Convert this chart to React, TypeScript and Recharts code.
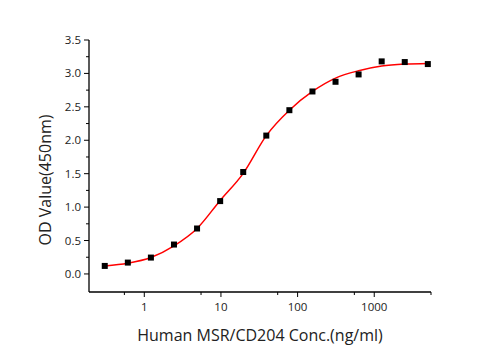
import { ComposedChart, Line, Scatter, XAxis, YAxis, Label } from 'recharts';

// concentrations in ng/ml (2-fold dilutions)
const concentrations = [0.305, 0.61, 1.22, 2.44, 4.88, 9.77, 19.53, 39.06, 78.13, 156.25, 312.5, 625, 1250, 2500, 5000];
// measured OD at 450nm
const odValues = [0.12, 0.17, 0.245, 0.44, 0.68, 1.09, 1.525, 2.07, 2.45, 2.73, 2.875, 2.985, 3.18, 3.17, 3.14];
// fitted curve read at the same concentrations
const fitValues = [0.12, 0.16, 0.245, 0.42, 0.68, 1.1, 1.505, 2.07, 2.45, 2.73, 2.93, 3.04, 3.11, 3.14, 3.15];

const xTicks = [0.55, 1, 5.5, 10, 55, 100, 550, 1000, 5500];
const xMajorTicks = [1, 10, 100, 1000];
const yTicks = [0, 0.25, 0.5, 0.75, 1, 1.25, 1.5, 1.75, 2, 2.25, 2.5, 2.75, 3, 3.25, 3.5];
const yMajorTicks = [0, 0.5, 1, 1.5, 2, 2.5, 3, 3.5];

const data = concentrations.map((c, i) => ({ conc: c, od: odValues[i], fit: fitValues[i] }));

const FONT = '"Open Sans", sans-serif';

const XTick = (props: any) => {
    const { x, y, payload } = props;
    const major = xMajorTicks.includes(payload.value);
    return (
        <g>
            <line x1={x} x2={x} y1={y} y2={y + (major ? 5 : 3)} stroke="#000" strokeWidth={1} />
            {major && (
                <text x={x} y={y + 19} textAnchor="middle" fontSize={11.5} fontFamily={FONT} fill="#222">
                    {payload.value}
                </text>
            )}
        </g>
    );
};

const YTick = (props: any) => {
    const { x, y, payload } = props;
    const major = yMajorTicks.includes(payload.value);
    return (
        <g>
            <line x1={x} x2={x - (major ? 5 : 3)} y1={y} y2={y} stroke="#000" strokeWidth={1} />
            {major && (
                <text x={x - 8} y={y + 4} textAnchor="end" fontSize={11.5} fontFamily={FONT} fill="#222">
                    {payload.value.toFixed(1)}
                </text>
            )}
        </g>
    );
};

const SquareDot = (props: any) => {
    const { cx, cy } = props;
    return <rect x={cx - 3} y={cy - 3} width={6} height={6} fill="#000" />;
};

const App = () => {
    return (
        <div style={{ position: 'absolute', left: 0, top: 0, width: 501, height: 350, background: '#fff' }}>
            <ComposedChart width={501} height={350} data={data} margin={{ top: 40, right: 70, bottom: 28, left: 39 }}>
                <XAxis
                    dataKey="conc"
                    type="number"
                    scale="log"
                    domain={[0.19, 5500]}
                    allowDataOverflow
                    ticks={xTicks}
                    interval={0}
                    tick={<XTick />}
                    tickSize={0}
                    tickMargin={0}
                    height={30}
                    axisLine={{ stroke: '#000', strokeWidth: 1.3 }}
                >
                    <Label
                        content={(p: any) => {
                            const vb = p.viewBox;
                            return (
                                <text x={vb.x + vb.width / 2} y={vb.y + 49} textAnchor="middle" fontSize={16} fontFamily={FONT} fill="#222">
                                    Human MSR/CD204 Conc.(ng/ml)
                                </text>
                            );
                        }}
                    />
                </XAxis>
                <YAxis
                    type="number"
                    domain={[-0.27, 3.5]}
                    allowDataOverflow
                    ticks={yTicks}
                    interval={0}
                    tick={<YTick />}
                    tickSize={0}
                    tickMargin={0}
                    width={50}
                    axisLine={{ stroke: '#000', strokeWidth: 1.3 }}
                >
                    <Label
                        content={(p: any) => {
                            const vb = p.viewBox;
                            const cx = vb.x + 12;
                            const cy = 180;
                            return (
                                <text x={cx} y={cy} transform={`rotate(-90, ${cx}, ${cy})`} textAnchor="middle" fontSize={16} fontFamily={FONT} fill="#222">
                                    OD Value(450nm)
                                </text>
                            );
                        }}
                    />
                </YAxis>
                <Line type="monotone" dataKey="fit" stroke="#ff0000" strokeWidth={1.5} dot={false} activeDot={false} isAnimationActive={false} />
                <Scatter dataKey="od" fill="#000" shape={<SquareDot />} isAnimationActive={false} />
            </ComposedChart>
        </div>
    );
};

export default App;
